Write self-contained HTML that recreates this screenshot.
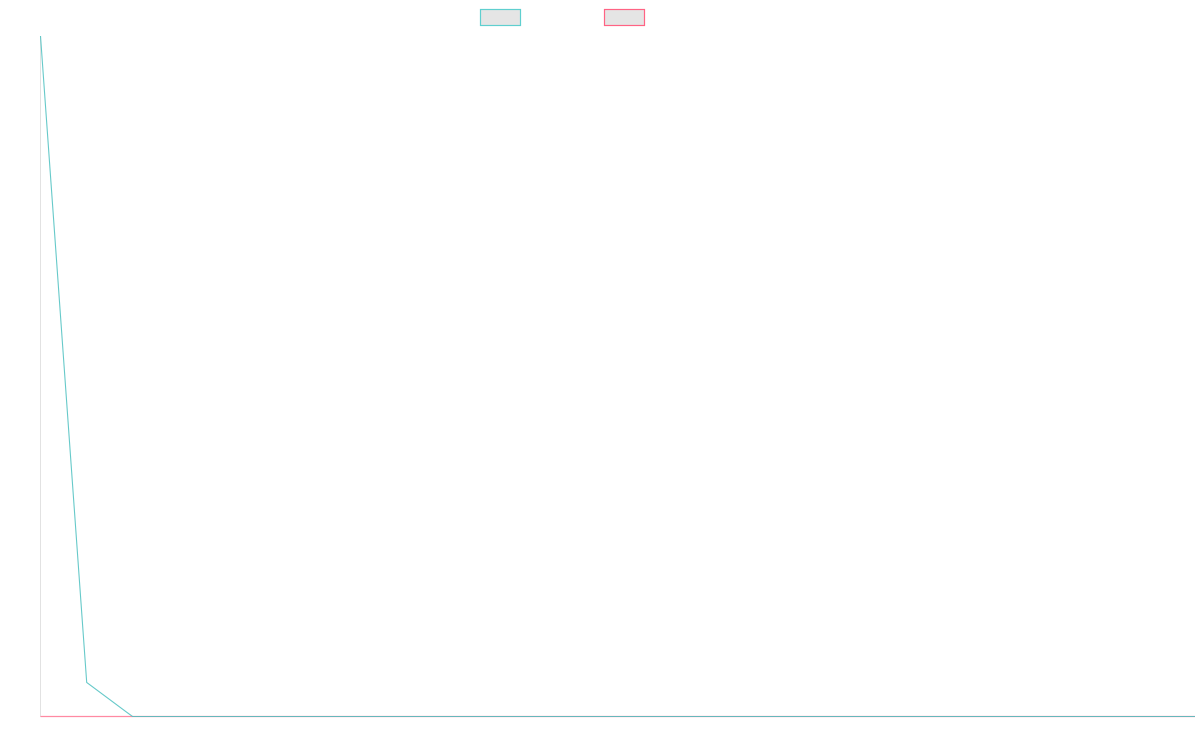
<!DOCTYPE html>
<html>
<head>
<meta charset="utf-8">
<style>
html,body{margin:0;padding:0;background:#fff;}
svg{display:block;}
</style>
</head>
<body>
<svg width="1200" height="750" viewBox="0 0 1200 750" xmlns="http://www.w3.org/2000/svg">
  <rect width="1200" height="750" fill="#fff"/>
  <!-- legend -->
  <rect x="480.5" y="9.5" width="40" height="16" fill="#e5e5e5" stroke="#5fcfcf" stroke-width="1.2"/>
  <rect x="604.5" y="9.5" width="40" height="16" fill="#e5e5e5" stroke="#ff6384" stroke-width="1.2"/>
  <!-- y axis -->
  <line x1="40.5" y1="36" x2="40.5" y2="717" stroke="#e2e2e2" stroke-width="1"/>
  <!-- pink series -->
  <polyline points="40.5,716.5 1195,716.5" fill="none" stroke="#ff8aa2" stroke-width="1.2"/>
  <!-- teal series -->
  <polyline points="40.5,36 86.7,682.5 132.5,716.5 1195,716.5" fill="none" stroke="#4bc0c0" stroke-width="1.1" stroke-opacity="0.85"/>
</svg>
</body>
</html>
